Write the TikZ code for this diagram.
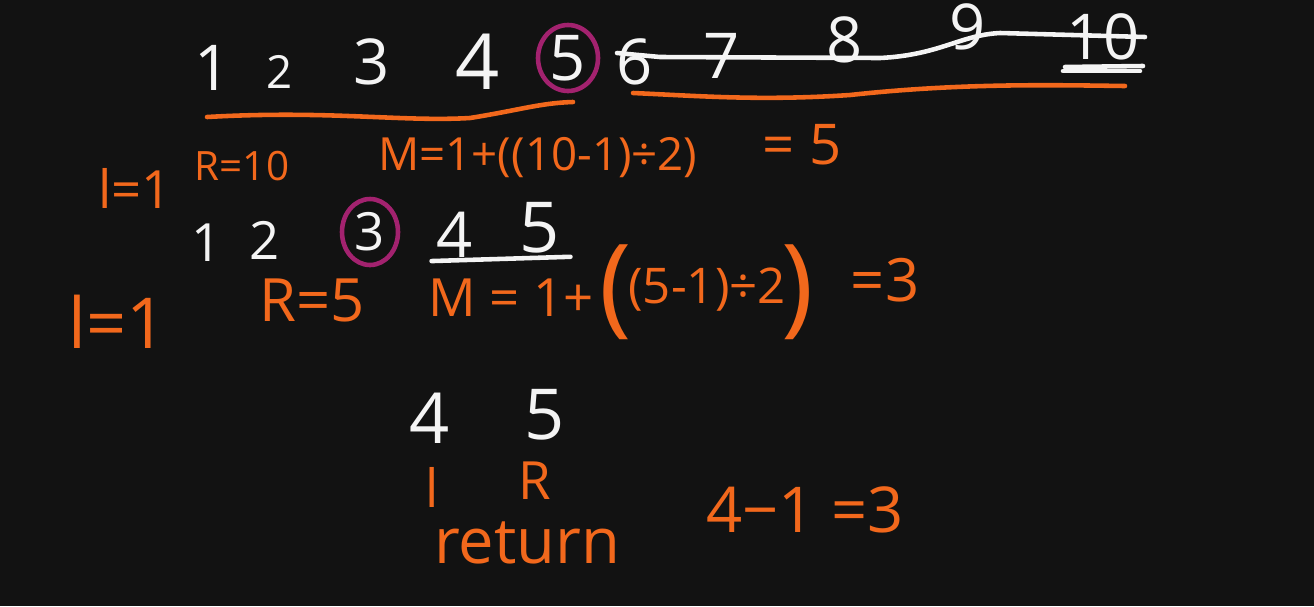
\documentclass[tikz,border=0pt]{standalone}
\usepackage{fontspec}
\setmainfont{Open Sans}
\usetikzlibrary{calc}
\definecolor{board}{HTML}{121212}
\definecolor{ink}{HTML}{F4F4F4}
\definecolor{chalk}{HTML}{F2681C}
\definecolor{plum}{HTML}{A3226F}
\tikzset{
  num/.style={text=ink, inner sep=0pt, font=\fontsize{36}{40}\selectfont},
  eqn/.style={text=chalk, inner sep=0pt, font=\fontsize{26}{30}\selectfont},
  pen/.style={line width=2.6pt, line cap=round, line join=round},
  ring/.style={pen, draw=plum}
}
\begin{document}
\begin{tikzpicture}[x=0.02cm, y=-0.02cm]
  % pizarra
  \fill[board] (0,0) rectangle (1314,606);
  \useasboundingbox (0,0) rectangle (1314,606);

  % Fila 1: 1 ... 10
  \node[num] (a1) at (213,68) {1};
  \node[num, font=\fontsize{26}{30}\selectfont] (a2) at (280,72) {2};
  \node[num] (a3) at (372,62) {3};
  \node[num, font=\fontsize{44}{48}\selectfont] (a4) at (478,62) {4};
  \node[num] (a5) at (568,58) {5};
  \node[num] (a6) at (635,62) {6};
  \node[num] (a7) at (722,56) {7};
  \node[num] (a8) at (845,40) {8};
  \node[num] (a9) at (968,27) {9};
  \node[num] (a10) at (1103,37) {10};

  % tachado 6..10
  \coordinate (s0) at (617,53);
  \coordinate (s1) at (1145,37);
  \draw[pen, ink] (s0) -- (660,57) -- (880,58) .. controls (940,55) and (960,35) .. (1000,33) -- (s1);
  \draw[pen, ink] (1065,67) -- (1143,66);
  \draw[pen, ink] (1063,71) -- (1140,71);

  % subrayados naranja
  \draw[pen, chalk] (207,117) .. controls (330,110) and (400,122) .. (470,118)
                    .. controls (520,110) and (540,103) .. (573,102);
  \draw[pen, chalk] (633,93) .. controls (700,96) and (760,101) .. (850,95)
                    .. controls (960,83) and (1050,85) .. (1125,86);
  \draw[ring] (a5) ellipse (30 and 33);

  % Fila 2: l=1, R=10, M
  \node[eqn, font=\fontsize{30}{34}\selectfont] (l1) at (135,188) {l=1};
  \node[eqn, font=\fontsize{23}{27}\selectfont] (r1) at (242,166) {R=10};
  \node[eqn, anchor=west] (m1) at (378,158) {M=1+((10-1)÷2)};
  \node[eqn, font=\fontsize{32}{36}\selectfont] (v1) at (802,145) {= 5};

  % Fila 3: 1 2 3 4 5
  \node[num, font=\fontsize{30}{34}\selectfont] (b1) at (207,243) {1};
  \node[num, font=\fontsize{30}{34}\selectfont] (b2) at (265,240) {2};
  \node[num, font=\fontsize{30}{34}\selectfont] (b3) at (370,232) {3};
  \node[num] (b4) at (455,235) {4};
  \node[num, font=\fontsize{40}{44}\selectfont] (b5) at (540,228) {5};
  \draw[ring] (b3) ellipse (28 and 33);
  \draw[pen, ink] ($(b4.south west)+(-5,3)$) coordinate (u0) -- ($(b5.south east)+(10,3)$) coordinate (u1);

  % Fila 4: l=1, R=5, M
  \node[eqn, font=\fontsize{40}{44}\selectfont] (l2) at (118,322) {l=1};
  \node[eqn, font=\fontsize{34}{38}\selectfont] (r2) at (312,300) {R=5};
  \node[eqn, font=\fontsize{30}{34}\selectfont, anchor=west] (m2) at (428,298) {M = 1+};
  \node[eqn, font=\fontsize{62}{66}\selectfont] (p0) at (616,292) {(};
  \node[eqn, font=\fontsize{28}{32}\selectfont, anchor=west] (m3) at (628,290) {(5-1)÷2};
  \node[eqn, font=\fontsize{62}{66}\selectfont] (p1) at (798,292) {)};
  \node[eqn, font=\fontsize{34}{38}\selectfont] (v2) at (885,280) {=3};

  % Fila 5: 4 5
  \node[num, font=\fontsize{40}{44}\selectfont] (c4) at (430,418) {4};
  \node[num, font=\fontsize{40}{44}\selectfont] (c5) at (545,415) {5};

  % Fila 6: l R, return
  \node[eqn, font=\fontsize{30}{34}\selectfont] (l3) at (432,487) {l};
  \node[eqn, font=\fontsize{30}{34}\selectfont] (r3) at (535,481) {R};
  \node[eqn, font=\fontsize{36}{40}\selectfont] (rt) at (527,543) {return};
  \node[eqn, font=\fontsize{36}{40}\selectfont] (v3) at (805,510) {4−1 =3};
\end{tikzpicture}
\end{document}
